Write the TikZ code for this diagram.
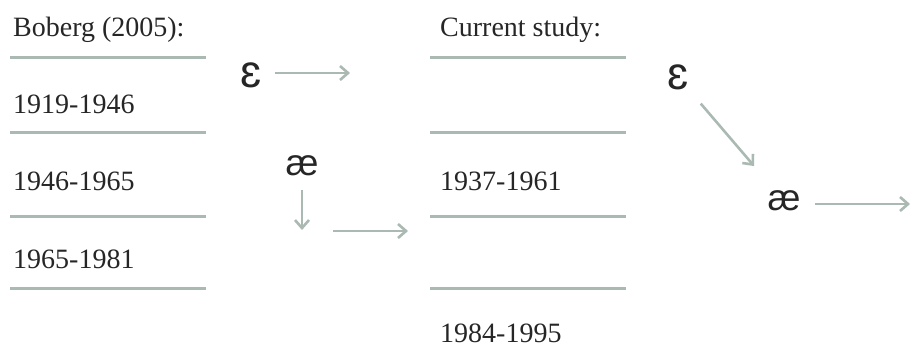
\documentclass[tikz,border=0pt]{standalone}
\usepackage{fontspec}
\setmainfont{Liberation Serif}
\newfontfamily\ipafont{Liberation Sans}
\usetikzlibrary{arrows.meta}
\definecolor{rule}{HTML}{AAB9B2}
\definecolor{ink}{HTML}{262626}
\begin{document}
\begin{tikzpicture}[x=1pt,y=-1pt,
  rulestyle/.style={draw=rule,line width=3pt},
  arrowstyle/.style={draw=rule,line width=2.6pt,-{Straight Barb[length=8pt,width=14pt]}},
  lbl/.style={anchor=base west,inner sep=0pt,text=ink,font=\fontsize{28}{30}\selectfont},
  sym/.style={inner sep=0pt,text=ink},
  epsstyle/.style={sym,font=\ipafont\fontsize{46}{48}\selectfont},
  aestyle/.style={sym,font=\ipafont\fontsize{37}{40}\selectfont}]
\useasboundingbox (0,0) rectangle (912,348);
% left table
\foreach \yy/\nm in {57/la,132/lb,216/lc,288/ld}{
  \coordinate (\nm1) at (10,\yy);
  \coordinate (\nm2) at (206,\yy);
  \draw[rulestyle] (\nm1) -- (\nm2);
}
\node[lbl] (tboberg) at (13,36) {Boberg (2005):};
\node[lbl] (tl1) at (13,113) {1919-1946};
\node[lbl] (tl2) at (13,190) {1946-1965};
\node[lbl] (tl3) at (13,268) {1965-1981};
% right table
\foreach \yy/\nm in {57/ra,132/rb,216/rc,288/rd}{
  \coordinate (\nm1) at (430,\yy);
  \coordinate (\nm2) at (626,\yy);
  \draw[rulestyle] (\nm1) -- (\nm2);
}
\node[lbl] (tcur) at (440,36) {Current study:};
\node[lbl] (tr1) at (440,190) {1937-1961};
\node[lbl] (tr2) at (440,342) {1984-1995};
% left symbols
\node[epsstyle] (e1) at (251,75) {ɛ};
\node[aestyle] (a1) at (302,166) {æ};
\coordinate (e1s) at (275,73);
\coordinate (e1t) at (350,73);
\draw[arrowstyle] (e1s) -- (e1t);
\coordinate (a1s) at (302,190);
\coordinate (a1t) at (302,230);
\draw[arrowstyle] (a1s) -- (a1t);
\coordinate (a1rs) at (333,231);
\coordinate (a1rt) at (408,231);
\draw[arrowstyle] (a1rs) -- (a1rt);
% right symbols
\node[epsstyle] (e2) at (678,77) {ɛ};
\node[aestyle] (a2) at (784,201) {æ};
\draw[arrowstyle,shorten <=35pt,shorten >=46pt] (e2.center) -- (a2.center);
\coordinate (a2s) at (815,204);
\coordinate (a2t) at (910,204);
\draw[arrowstyle] (a2s) -- (a2t);
\end{tikzpicture}
\end{document}
